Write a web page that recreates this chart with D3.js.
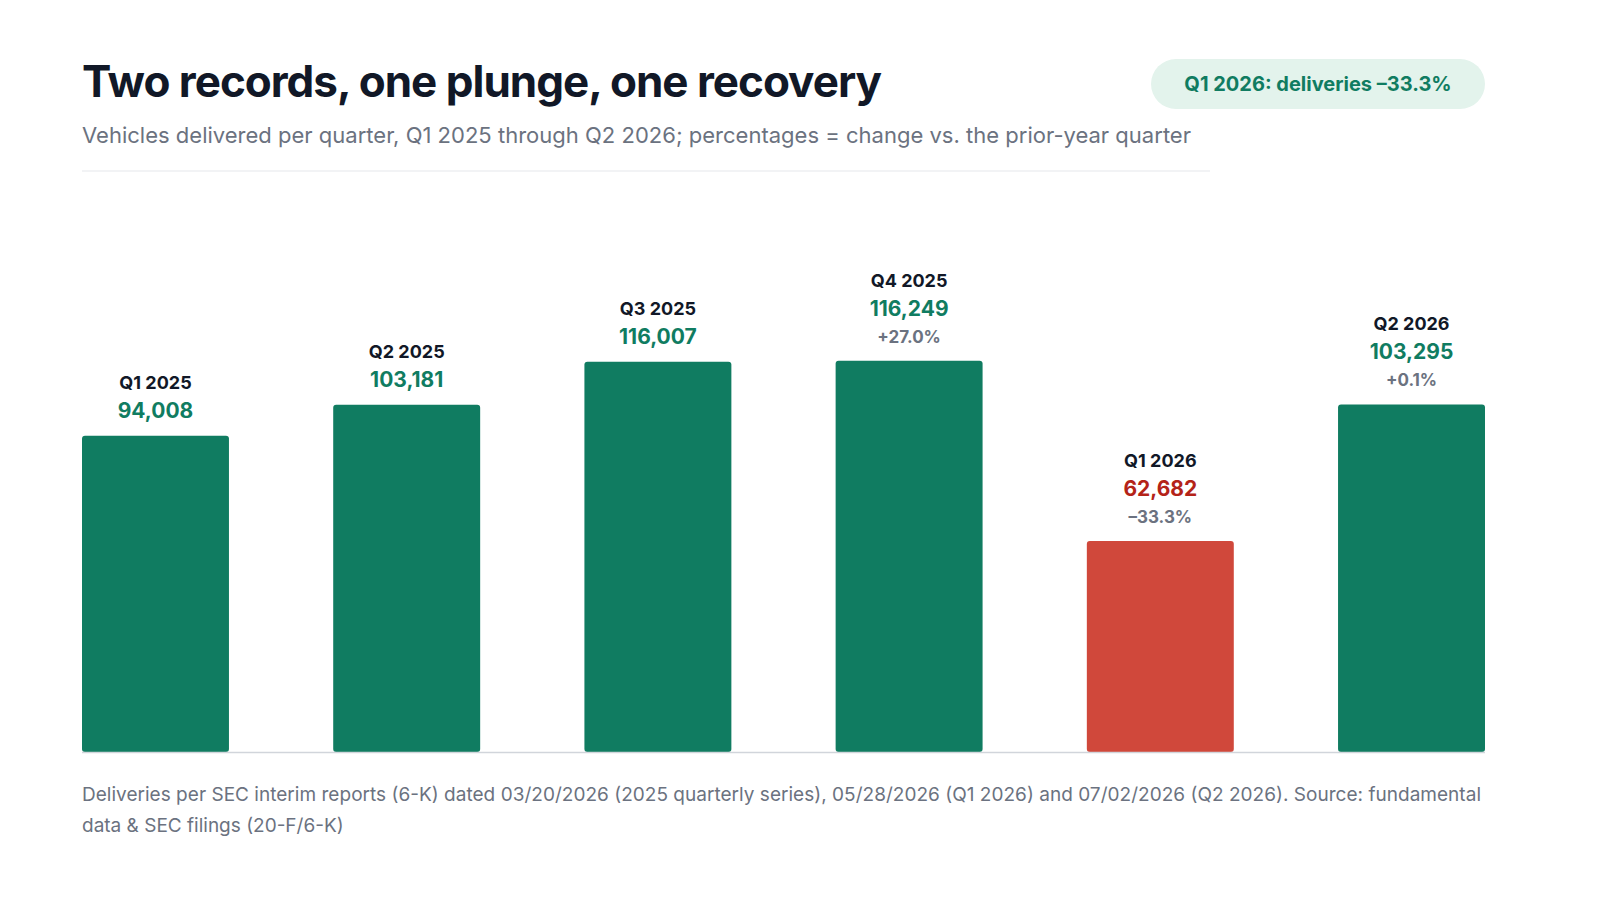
<!DOCTYPE html>
<html lang="en">
<head>
<meta charset="UTF-8" />
<script src="https://d3js.org/d3.v7.min.js"></script>
<style>
  body { margin: 0; background: #fff; font-family: "Inter", "Liberation Sans", sans-serif; }
  svg { display: block; }
</style>
</head>
<body>
<svg></svg>
<script>
const quarters = ["Q1 2025", "Q2 2025", "Q3 2025", "Q4 2025", "Q1 2026", "Q2 2026"];
const deliveries = [94008, 103181, 116007, 116249, 62682, 103295];
const changes = [null, null, null, "+27.0%", "\u201333.3%", "+0.1%"];

const width = 1600, height = 900;
const svg = d3.select("svg").attr("width", width).attr("height", height);

const green = "#107c61", red = "#d0483b", dark = "#111827", gray = "#6b7280";

svg.append("text").attr("x", 82).attr("y", 97)
  .attr("font-size", 44).attr("font-weight", 700).attr("fill", dark)
  .attr("letter-spacing", -1)
  .text("Two records, one plunge, one recovery");
svg.append("text").attr("x", 82).attr("y", 143)
  .attr("font-size", 22).attr("fill", gray)
  .attr("textLength", 1109)
  .text("Vehicles delivered per quarter, Q1 2025 through Q2 2026; percentages = change vs. the prior-year quarter");
svg.append("line").attr("x1", 82).attr("x2", 1210).attr("y1", 171).attr("y2", 171)
  .attr("stroke", "#e5e7eb");

// badge
svg.append("rect").attr("x", 1151).attr("y", 59).attr("width", 334).attr("height", 50)
  .attr("rx", 25).attr("fill", "#e3f3ec");
svg.append("text").attr("x", 1318).attr("y", 91).attr("text-anchor", "middle")
  .attr("font-size", 20).attr("font-weight", 700).attr("fill", green)
  .text("Q1 2026: deliveries \u201333.3%");

const x = d3.scaleBand().domain(quarters).range([82, 1485]).paddingInner(0.415).paddingOuter(0);
const y = d3.scaleLinear().domain([0, 168500]).range([752, 185]);

const g = svg.append("g");
const data = quarters.map((q, i) => ({ q, v: deliveries[i], c: changes[i], neg: i === 4 }));

g.selectAll("rect").data(data).enter().append("rect")
  .attr("x", d => x(d.q)).attr("width", x.bandwidth())
  .attr("y", d => y(d.v)).attr("height", d => y(0) - y(d.v))
  .attr("rx", 3)
  .attr("fill", d => d.neg ? red : green);

svg.append("line").attr("x1", 82).attr("x2", 1485).attr("y1", 752.5).attr("y2", 752.5)
  .attr("stroke", "#d1d5db").attr("stroke-width", 1.5);

const lab = g.selectAll("g.lab").data(data).enter().append("g")
  .attr("transform", d => `translate(${x(d.q) + x.bandwidth() / 2},${y(d.v) - (d.c ? 27 : 0)})`)
  .attr("text-anchor", "middle");
lab.append("text").attr("y", -47).attr("font-size", 18).attr("font-weight", 700).attr("fill", dark)
  .text(d => d.q);
lab.append("text").attr("y", -18).attr("font-size", 21).attr("font-weight", 700)
  .attr("fill", d => d.neg ? "#b42318" : green)
  .text(d => d3.format(",")(d.v));
lab.filter(d => d.c).append("text").attr("y", 9).attr("font-size", 17).attr("font-weight", 700)
  .attr("fill", gray).text(d => d.c);

const foot = svg.append("text").attr("font-size", 19).attr("fill", gray);
foot.append("tspan").attr("x", 82).attr("y", 801)
  .attr("textLength", 1399)
  .text("Deliveries per SEC interim reports (6-K) dated 03/20/2026 (2025 quarterly series), 05/28/2026 (Q1 2026) and 07/02/2026 (Q2 2026). Source: fundamental");
foot.append("tspan").attr("x", 82).attr("y", 832).text("data & SEC filings (20-F/6-K)");
</script>
</body>
</html>
